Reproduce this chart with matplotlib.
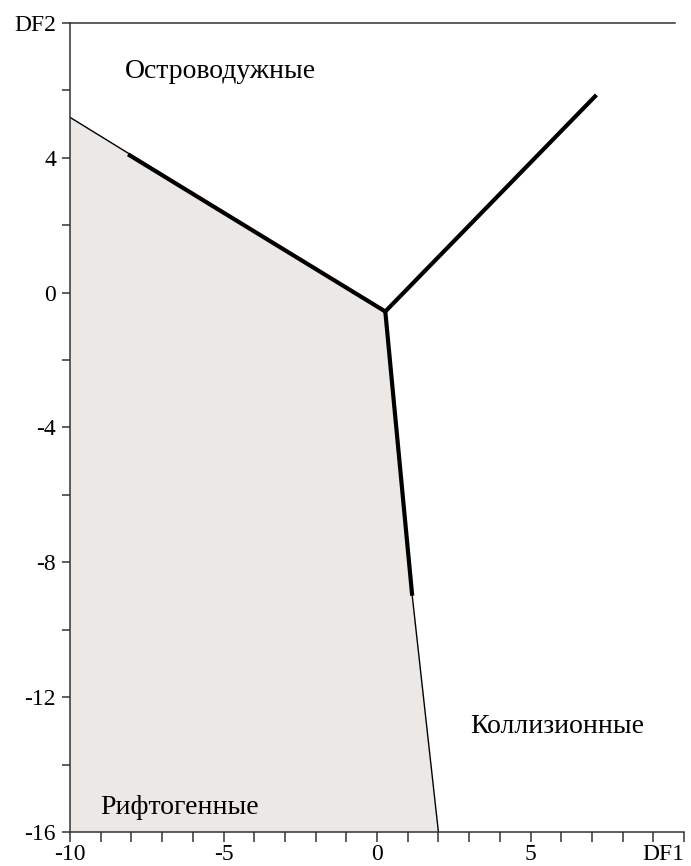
import matplotlib.pyplot as plt
from matplotlib.ticker import MultipleLocator, FixedLocator

plt.rcParams['font.family'] = ['Liberation Serif', 'DejaVu Serif']

# boundary between fields (DF1, DF2)
vertex = (0.27, -0.56)
arc_end = (7.1, 5.82)
left_start = (-10, 5.2)
left_thick_start = (-8.05, 4.07)
down_thick_end = (1.14, -8.93)
down_end = (2.0, -16.0)

# rift field polygon
rift_x = [-10, 0.27, 1.14, 2.0, -10]
rift_y = [5.2, -0.56, -8.93, -16, -16]

x_ticks = [-10, -5, 0, 5, 10]
x_labels = ['-10', '-5', '0', '5', 'DF1']
y_ticks = [-16, -12, -8, -4, 0, 4, 8]
y_labels = ['-16', '-12', '-8', '-4', '0', '4', 'DF2']

fields = ['Островодужные', 'Коллизионные', 'Рифтогенные']
field_x = [-8.2, 3.03, -9.02]
field_y = [6.56, -12.88, -15.28]

fig = plt.figure(figsize=(6.91, 8.66), dpi=100)
ax = fig.add_axes([0.1013, 0.0393, 0.8886, 0.9342])
ax.set_xlim(-10, 10)
ax.set_ylim(-16, 8)

ax.fill(rift_x, rift_y, color='#ebe8e5', lw=0, zorder=1)

# thin parts
ax.plot([left_start[0], vertex[0]], [left_start[1], vertex[1]], color='black', lw=1.0, zorder=2)
ax.plot([down_thick_end[0], down_end[0]], [down_thick_end[1], down_end[1]], color='black', lw=1.0, zorder=2)
# thick parts
ax.plot([left_thick_start[0], vertex[0], down_thick_end[0]],
        [left_thick_start[1], vertex[1], down_thick_end[1]],
        color='black', lw=3.0, solid_joinstyle='miter', zorder=3)
ax.plot([vertex[0], arc_end[0]], [vertex[1], arc_end[1]], color='black', lw=3.0, zorder=3)

for name, x, y in zip(fields, field_x, field_y):
    ax.text(x, y, name, fontsize=20, ha='left', va='center', zorder=4)

ax.spines['right'].set_visible(False)
for s in ['left', 'bottom', 'top']:
    ax.spines[s].set_linewidth(1.1)
    ax.spines[s].set_color('#333333')
ax.spines['top'].set_bounds(-10, 9.7)

ax.xaxis.set_major_locator(FixedLocator(x_ticks))
ax.set_xticklabels(x_labels)
ax.xaxis.set_minor_locator(MultipleLocator(1))
ax.yaxis.set_major_locator(FixedLocator(y_ticks))
ax.set_yticklabels(y_labels)
ax.yaxis.set_minor_locator(MultipleLocator(2))

ax.tick_params(axis='both', which='both', direction='out', width=1.1,
               color='#333333', labelsize=17)
ax.tick_params(axis='x', which='both', top=False, length=7, pad=2)
ax.tick_params(axis='y', which='both', length=6, pad=4)
ax.get_xticklabels()[-1].set_ha('right')
ax.get_xticklabels()[0].set_ha('center')

fig.savefig('out.png', dpi=100)
